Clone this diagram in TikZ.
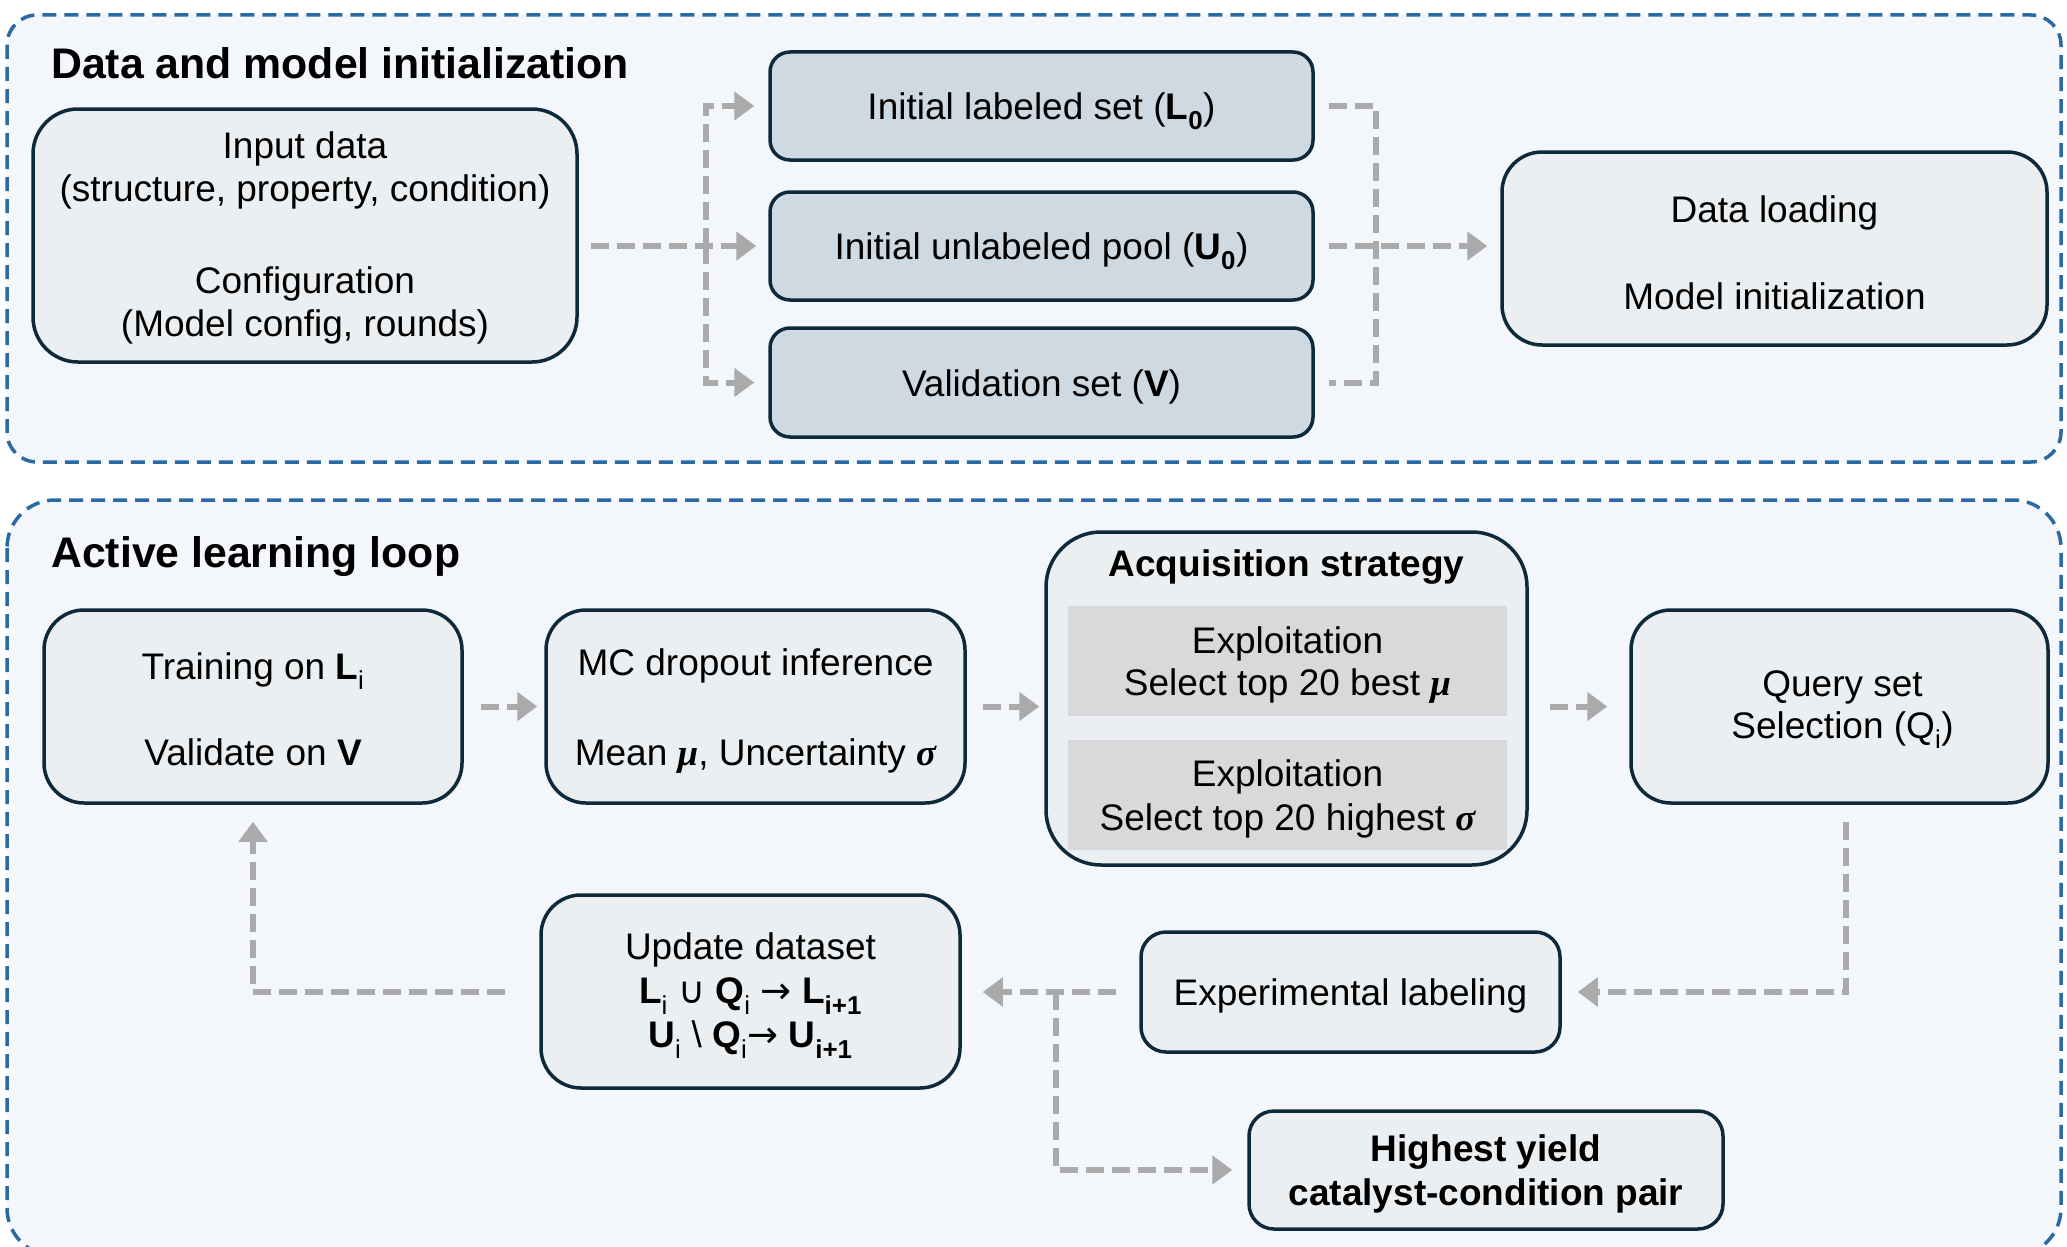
\documentclass[tikz,border=0pt]{standalone}
\usepackage{fontspec}
\setmainfont{Liberation Sans}
\newfontfamily\grkfont{Liberation Serif}
\newfontfamily\symfont{DejaVu Sans}
\usetikzlibrary{arrows.meta}
\definecolor{pfill}{HTML}{F3F6FB}
\definecolor{pblue}{HTML}{2B69A3}
\definecolor{bfill}{HTML}{ECEFF2}
\definecolor{bline}{HTML}{0E2A3A}
\definecolor{dfill}{HTML}{CFD9E2}
\definecolor{ifill}{HTML}{D9D9DB}
\definecolor{agray}{HTML}{AAAAAA}
\newcommand\bodyfont{\fontsize{37}{43}\selectfont}
\newcommand\ttlfont{\fontsize{42.8}{50}\selectfont\bfseries}
\newcommand\gmu{{\grkfont\bfseries\itshape μ}}
\newcommand\gsig{{\grkfont\bfseries\itshape σ}}
\newcommand\sbi{\textsubscript{i}}
\tikzset{
 panel/.style={draw=pblue, line width=3.5pt, dash pattern=on 14pt off 8pt, fill=pfill},
 mybox/.style={draw=bline, line width=3.5pt, fill=bfill, rounded corners=40pt, inner sep=0pt},
 databox/.style={mybox, fill=dfill, rounded corners=20pt},
 innerbox/.style={fill=ifill, inner sep=0pt, minimum width=439pt, minimum height=110pt},
 txt/.style={align=center, inner sep=0pt, font=\bodyfont},
 arr/.style={draw=agray, line width=6pt, dash pattern=on 18pt off 8pt, -{Triangle[length=20pt,width=28pt]}},
 dline/.style={draw=agray, line width=6pt, dash pattern=on 18pt off 8pt},
 ttl/.style={anchor=base west, inner sep=0pt, font=\ttlfont},
}
\begin{document}
\begin{tikzpicture}[x=1pt,y=-1pt]
\clip (0,0) rectangle (2067,1247);
\useasboundingbox (0,0) rectangle (2067,1247);
\fill[white] (0,0) rectangle (2067,1247);
% panels
\draw[panel, rounded corners=30pt] (7,15) rectangle (2061,462);
\draw[panel, rounded corners=48pt] (7,500) rectangle (2061,1256);
\node[ttl] (t1) at (51,78) {Data and model initialization};
\node[ttl] (t2) at (51,567) {Active learning loop};
% top nodes
\node[mybox, rounded corners=45pt, minimum width=544pt, minimum height=253pt] (in) at (305,235.5) {};
\node[txt] (int) at ([yshift=-2pt]in.center)
 {Input data\\(structure, property, condition)\\[49pt]Configuration\\(Model config, rounds)};
\node[databox, minimum width=543pt, minimum height=108pt] (lab) at (1041.5,106) {};
\node[txt] (labt) at ([yshift=-5pt]lab.center) {Initial labeled set (\textbf{L\textsubscript{0}})};
\node[databox, minimum width=543pt, minimum height=108pt] (unl) at (1041.5,246) {};
\node[txt] (unlt) at ([yshift=-5pt]unl.center) {Initial unlabeled pool (\textbf{U\textsubscript{0}})};
\node[databox, minimum width=543pt, minimum height=109pt] (val) at (1041.5,382.5) {};
\node[txt] (valt) at ([yshift=-4pt]val.center) {Validation set (\textbf{V})};
\node[mybox, minimum width=545pt, minimum height=193pt] (dl) at (1774.5,248.5) {};
\node[txt] (dlt) at ([yshift=-4pt]dl.center) {Data loading\\[44pt]Model initialization};
% top connectors
\coordinate (bx) at (706,246);
\coordinate (jx) at (1376,246);
\draw[arr, shorten <=12pt, shorten >=12pt] (in.east |- unl.west) -- (unl.west);
\draw[arr, shorten >=14pt] (bx) |- (lab.west);
\draw[arr, shorten >=14pt] (bx) |- (val.west);
\draw[dline, shorten <=14pt, shorten >=14pt] (lab.east) -| (jx) |- (val.east);
\draw[arr, shorten <=14pt, shorten >=13pt] (unl.east) -- (dl.west |- unl.east);
% bottom nodes
\node[mybox, minimum width=418pt, minimum height=193pt] (tr) at (253,706.5) {};
\node[txt] (trt) at ([yshift=-3pt]tr.center) {Training on \textbf{L}\sbi\\[43pt]Validate on \textbf{V}};
\node[mybox, minimum width=419pt, minimum height=193pt] (mc) at (755.5,706.5) {};
\node[txt] (mct) at ([yshift=-5pt]mc.center) {MC dropout inference\\[47pt]Mean \gmu, Uncertainty \gsig};
\node[mybox, rounded corners=55pt, minimum width=481pt, minimum height=333pt] (acq) at (1286.5,698.5) {};
\node[txt, font=\bodyfont\bfseries] (acqt) at (1286.5,567) {Acquisition strategy};
\node[innerbox] (ex1) at (1287.5,661) {};
\node[txt, font=\fontsize{37}{42}\selectfont] (ex1t) at ([yshift=-4pt]ex1.center) {Exploitation\\Select top 20 best \gmu};
\node[innerbox] (ex2) at (1287.5,795) {};
\node[txt, font=\fontsize{37}{44}\selectfont] (ex2t) at ([yshift=-4pt]ex2.center) {Exploitation\\Select top 20 highest \gsig};
\node[mybox, minimum width=417pt, minimum height=193pt] (q) at (1839.5,706.5) {};
\node[txt, font=\fontsize{37}{42}\selectfont] (qt) at ([yshift=-3pt,xshift=3pt]q.center) {Query set\\Selection (Q\sbi)};
\node[mybox, rounded corners=25pt, minimum width=419pt, minimum height=120pt] (exp) at (1350.5,992) {};
\node[txt] (expt) at ([yshift=-4pt]exp.center) {Experimental labeling};
\node[mybox, minimum width=419pt, minimum height=193pt] (up) at (750.5,991.5) {};
\node[txt, font=\fontsize{37}{44}\selectfont] (upt) at ([yshift=-4pt]up.center)
 {Update dataset\\\textbf{L}\sbi{} {\symfont ∪} \textbf{Q}\sbi{} {\symfont →} \textbf{L\textsubscript{i+1}}\\\textbf{U}\sbi{} \textbackslash{} \textbf{Q}\sbi{\symfont →} \textbf{U\textsubscript{i+1}}};
\node[mybox, rounded corners=25pt, minimum width=474pt, minimum height=118pt] (hy) at (1486,1170) {};
\node[txt, font=\fontsize{37}{44}\selectfont\bfseries] (hyt) at ([yshift=-4pt]hy.center) {Highest yield\\catalyst-condition pair};
% bottom connectors
\coordinate (bj) at (1056,992);
\draw[arr, shorten <=17pt, shorten >=7pt] (tr.east) -- (mc.west);
\draw[arr, shorten <=16pt, shorten >=5pt] (mc.east) -- (acq.west |- mc.east);
\draw[arr, shorten <=21pt, shorten >=22pt] (acq.east |- q.west) -- (q.west);
\draw[arr, shorten <=17pt, shorten >=16pt] ([xshift=6pt]q.south) |- (exp.east);
\draw[arr, shorten <=23pt, shorten >=21pt] (exp.west) -- (up.east |- exp.west);
\draw[arr, shorten >=15pt] (bj) |- (hy.west);
\draw[arr, shorten <=34pt, shorten >=17pt] (up.west) -| (tr.south);
\end{tikzpicture}
\end{document}
